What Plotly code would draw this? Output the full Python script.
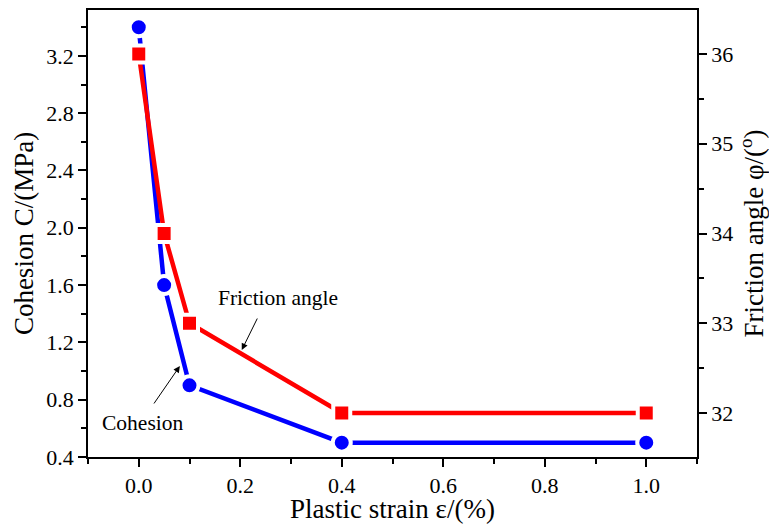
import plotly.graph_objects as go

strain = [0.0, 0.05, 0.1, 0.4, 1.0]
cohesion = [3.4, 1.6, 0.9, 0.5, 0.5]
friction = [36.0, 34.0, 33.0, 32.0, 32.0]

x_ticks = [0.0, 0.2, 0.4, 0.6, 0.8, 1.0]
y_ticks = [0.4, 0.8, 1.2, 1.6, 2.0, 2.4, 2.8, 3.2]
y2_ticks = [32, 33, 34, 35, 36]

FONT = "Liberation Serif"

fig = go.Figure()
fig.add_trace(go.Scatter(
    x=strain, y=cohesion, mode="lines+markers", name="Cohesion",
    line=dict(color="#0000ff", width=4.5),
    marker=dict(symbol="circle", size=18, color="#0000ff", line=dict(color="white", width=4)),
))
fig.add_trace(go.Scatter(
    x=strain, y=friction, mode="lines+markers", name="Friction angle", yaxis="y2",
    line=dict(color="#ff0000", width=4.5),
    marker=dict(symbol="square", size=17, color="#ff0000", line=dict(color="white", width=4)),
))

axis_common = dict(
    showline=True, linecolor="black", linewidth=1.5,
    ticks="outside", ticklen=8, tickwidth=1.5, tickcolor="black",
    showgrid=False, zeroline=False, automargin=False,
    tickfont=dict(family=FONT, size=22, color="black"),
)
minor_common = dict(ticks="outside", ticklen=5, tickwidth=1.5, tickcolor="black")

fig.update_layout(
    width=769, height=524,
    margin=dict(l=88, r=72, t=10, b=67),
    paper_bgcolor="white", plot_bgcolor="white",
    showlegend=False,
    font=dict(family=FONT, color="black"),
    xaxis=dict(
        **axis_common, range=[-0.1, 1.1], tickvals=x_ticks, ticktext=[f"{v:.1f}" for v in x_ticks],
        mirror=True,
        minor=dict(**minor_common, dtick=0.1, tick0=0),
        title=dict(text="Plastic strain ε/(%)", font=dict(family=FONT, size=27), standoff=0),
    ),
    yaxis=dict(
        **axis_common, range=[0.4, 3.52], tickvals=y_ticks, ticktext=[f"{v:.1f}" for v in y_ticks],
        minor=dict(**minor_common, dtick=0.2, tick0=0.4),
        title=dict(text="Cohesion C/(MPa)", font=dict(family=FONT, size=27), standoff=5),
    ),
    yaxis2=dict(
        **axis_common, range=[31.51, 36.49], tickvals=y2_ticks, ticktext=[str(v) for v in y2_ticks],
        overlaying="y", side="right",
        minor=dict(**minor_common, dtick=0.5, tick0=32),
        title=dict(text="Friction angle φ/(<sup>o</sup>)", font=dict(family=FONT, size=27), standoff=14),
    ),
)

fig.add_annotation(
    x=0.203, y=1.147, ax=0.235, ay=1.377, xref="x", yref="y", axref="x", ayref="y",
    text="", showarrow=True, arrowhead=2, arrowsize=1.3, arrowwidth=1, arrowcolor="black",
)
fig.add_annotation(
    x=0.274, y=1.51, xref="x", yref="y", text="Friction angle", showarrow=False,
    font=dict(family=FONT, size=21.5, color="black"),
)
fig.add_annotation(
    x=0.081, y=1.035, ax=0.028, ay=0.763, xref="x", yref="y", axref="x", ayref="y",
    text="", showarrow=True, arrowhead=2, arrowsize=1.3, arrowwidth=1, arrowcolor="black",
)
fig.add_annotation(
    x=0.008, y=0.637, xref="x", yref="y", text="Cohesion", showarrow=False,
    font=dict(family=FONT, size=21.5, color="black"),
)

fig.write_html("out.html")
